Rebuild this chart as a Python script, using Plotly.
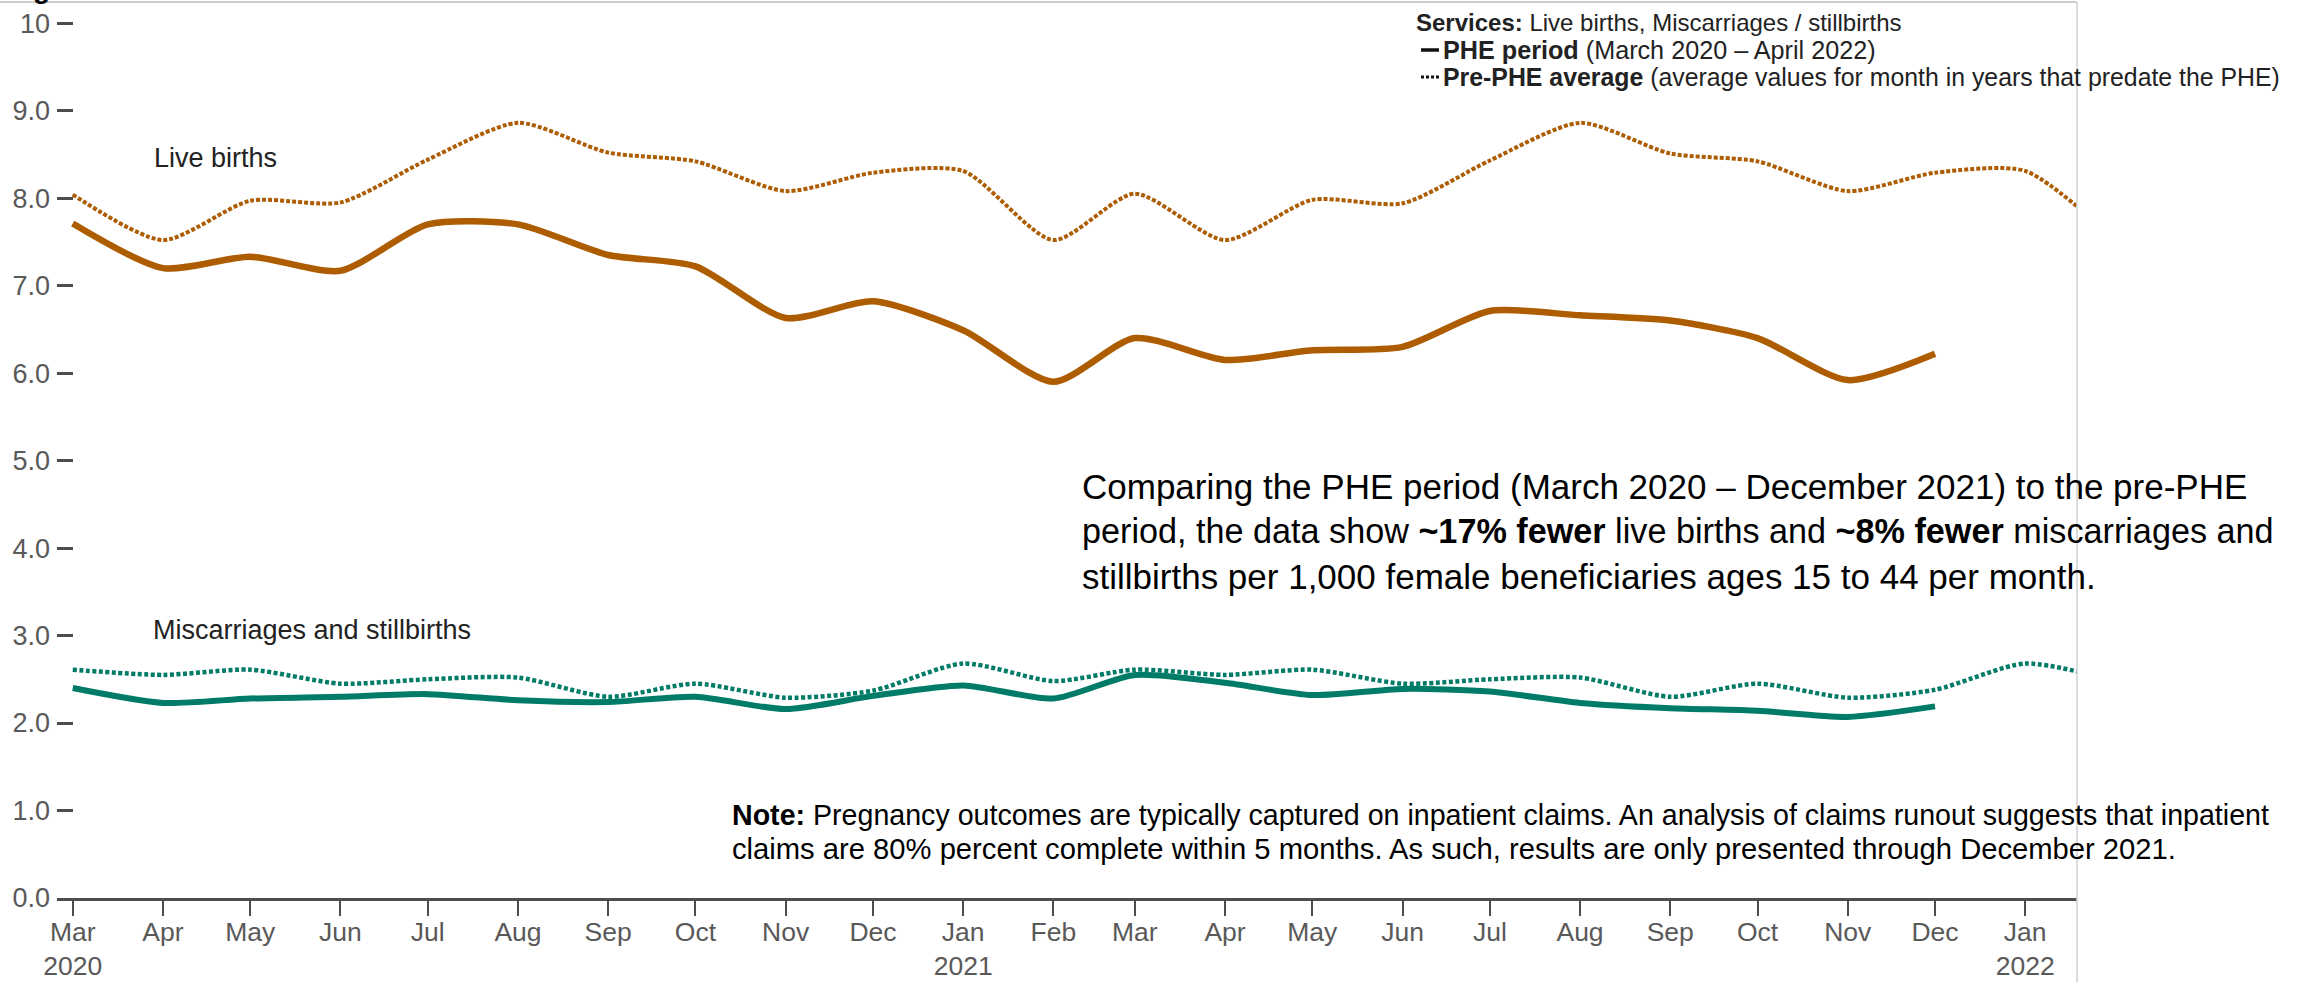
import pandas as pd
import plotly.graph_objects as go

# Monthly rates per 1,000 female beneficiaries ages 15 to 44
phe_start, phe_end = "2020-03-01", "2021-12-01"
pre_start, pre_end = "2020-03-01", "2022-02-01"

live_births_phe = [7.71, 7.20, 7.33, 7.17, 7.70, 7.70, 7.35, 7.22, 6.63, 6.82, 6.49,
                   5.90, 6.40, 6.15, 6.26, 6.30, 6.71, 6.66, 6.60, 6.40, 5.92, 6.22]
live_births_pre = [8.04, 7.52, 7.97, 7.95, 8.44, 8.86, 8.52, 8.42, 8.08, 8.29, 8.31, 7.52,
                   8.05, 7.52, 7.98, 7.94, 8.43, 8.86, 8.51, 8.42, 8.08, 8.29, 8.31, 7.52]
miscarriages_phe = [2.40, 2.23, 2.28, 2.30, 2.33, 2.26, 2.24, 2.30, 2.16, 2.31, 2.43,
                    2.28, 2.55, 2.46, 2.32, 2.39, 2.36, 2.23, 2.17, 2.14, 2.07, 2.19]
miscarriages_pre = [2.61, 2.55, 2.61, 2.45, 2.50, 2.52, 2.30, 2.45, 2.29, 2.37, 2.68, 2.48,
                    2.61, 2.55, 2.61, 2.45, 2.50, 2.52, 2.30, 2.45, 2.29, 2.38, 2.68, 2.48]

tick_dates = pd.date_range("2020-03-01", "2022-01-01", freq="MS")
tick_labels = ["Mar<br>2020", "Apr", "May", "Jun", "Jul", "Aug", "Sep", "Oct", "Nov", "Dec",
               "Jan<br>2021", "Feb", "Mar", "Apr", "May", "Jun", "Jul", "Aug", "Sep", "Oct",
               "Nov", "Dec", "Jan<br>2022"]
y_ticks = [0, 1, 2, 3, 4, 5, 6, 7, 8, 9, 10]
y_tick_labels = ["0.0", "1.0", "2.0", "3.0", "4.0", "5.0", "6.0", "7.0", "8.0", "9.0", "10"]

phe_x = pd.date_range(phe_start, phe_end, freq="MS")
pre_x = pd.date_range(pre_start, pre_end, freq="MS")

ORANGE = "#AD5C00"
TEAL = "#007B68"
FONT = "Arial, Liberation Sans, sans-serif"

# Figure geometry in pixels
W, H = 2308, 982
L, R, T, B = 57, 231, 3, 84
PW, PH = W - L - R, H - T - B


def px(x):
    return (x - L) / PW


def py(y):
    return (H - B - y) / PH


fig = go.Figure()

fig.add_trace(go.Scatter(x=pre_x, y=live_births_pre, mode="lines",
                         line=dict(color=ORANGE, width=4, dash="4px,2px", shape="spline", smoothing=0.7),
                         hoverinfo="skip", showlegend=False))
fig.add_trace(go.Scatter(x=pre_x, y=miscarriages_pre, mode="lines",
                         line=dict(color=TEAL, width=4.5, dash="4px,2.5px", shape="spline", smoothing=0.7),
                         hoverinfo="skip", showlegend=False))
fig.add_trace(go.Scatter(x=phe_x, y=live_births_phe, mode="lines",
                         line=dict(color=ORANGE, width=6.5, shape="spline", smoothing=0.7),
                         showlegend=False))
fig.add_trace(go.Scatter(x=phe_x, y=miscarriages_phe, mode="lines",
                         line=dict(color=TEAL, width=6, shape="spline", smoothing=0.7),
                         showlegend=False))

annotations = []


def note(text, x, y, size, color="#111111", anchor="middle"):
    annotations.append(dict(text=text, x=px(x), y=py(y), xref="paper", yref="paper",
                            xanchor="left", yanchor=anchor, showarrow=False, align="left",
                            font=dict(family=FONT, size=size, color=color)))


# Series labels
note("Live births", 152, 158, 27, "#222222")
note("Miscarriages and stillbirths", 151, 630, 27, "#222222")

# Summary text
note("Comparing the PHE period (March 2020 – December 2021) to the pre-PHE", 1080, 486, 35, "#000000")
note("period, the data show <b>~17% fewer</b> live births and <b>~8% fewer</b> miscarriages and",
     1080, 531, 34.2, "#000000")
note("stillbirths per 1,000 female beneficiaries ages 15 to 44 per month.", 1080, 576, 35, "#000000")

# Footnote
note("<b>Note:</b> Pregnancy outcomes are typically captured on inpatient claims. "
     "An analysis of claims runout suggests that inpatient", 730, 815, 28.6, "#000000")
note("claims are 80% percent complete within 5 months. As such, results are only presented "
     "through December 2021.", 730, 849, 29.2, "#000000")

# Key
note("<b>Services:</b> Live births, Miscarriages / stillbirths", 1414, 23, 24, "#222222")
note("<b>PHE period</b> (March 2020 – April 2022)", 1441, 50, 25.2, "#222222")
note("<b>Pre-PHE average</b> (average values for month in years that predate the PHE)",
     1441, 77, 24.85, "#222222")

# Title line sitting above the page edge
annotations.append(dict(text="<b>Figure</b>", x=px(6), y=py(6), xref="paper", yref="paper",
                        xanchor="left", yanchor="bottom", showarrow=False,
                        font=dict(family=FONT, size=28, color="#000000")))

shapes = [
    # frame
    dict(type="line", xref="paper", yref="paper", x0=px(0), x1=1, y0=py(2), y1=py(2),
         line=dict(color="#BDBDBD", width=1.5)),
    dict(type="line", xref="paper", yref="paper", x0=1, x1=1, y0=py(2), y1=py(H),
         line=dict(color="#D0D0D0", width=1.5)),
    # key swatches
    dict(type="line", xref="paper", yref="paper", x0=px(1421), x1=px(1439), y0=py(50), y1=py(50),
         line=dict(color="#111111", width=3.5)),
    dict(type="line", xref="paper", yref="paper", x0=px(1421), x1=px(1439), y0=py(77), y1=py(77),
         line=dict(color="#111111", width=3, dash="3px,2px")),
]

fig.update_layout(
    width=W, height=H,
    margin=dict(l=L, r=R, t=T, b=B, pad=0, autoexpand=False),
    paper_bgcolor="white", plot_bgcolor="white",
    font=dict(family=FONT),
    annotations=annotations, shapes=shapes,
    showlegend=False,
    xaxis=dict(type="date", range=["2020-02-24 14:00", "2022-01-18 19:00"],
               tickmode="array", tickvals=tick_dates, ticktext=tick_labels,
               automargin=False,
               showgrid=False, zeroline=False, showline=True, linecolor="#4D4D4D", linewidth=3,
               ticks="outside", ticklen=15, tickwidth=2, tickcolor="#4D4D4D",
               ticklabelstandoff=-7,
               tickfont=dict(family=FONT, size=26.5, color="#595959")),
    yaxis=dict(range=[0, 10.23], tickmode="array", tickvals=y_ticks, ticktext=y_tick_labels,
               automargin=False,
               showgrid=False, zeroline=False, showline=False,
               ticks="inside", ticklen=16, tickwidth=3, tickcolor="#4D4D4D",
               ticklabelstandoff=6,
               tickfont=dict(family=FONT, size=27, color="#595959")),
)

fig.write_html("out.html")
